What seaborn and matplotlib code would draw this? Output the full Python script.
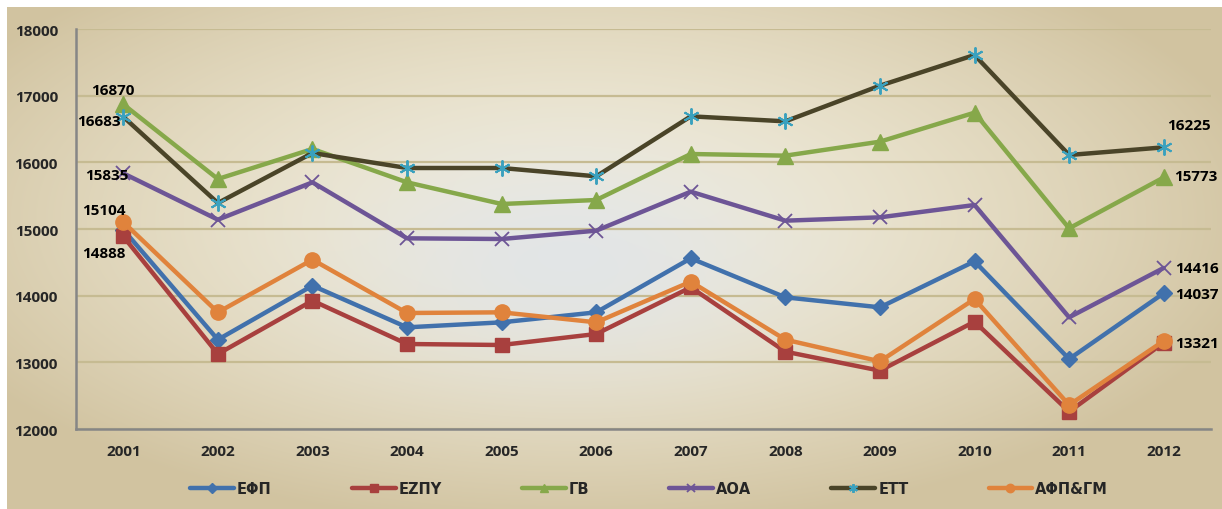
import numpy as np
import pandas as pd
import matplotlib
matplotlib.use("Agg")
import matplotlib.pyplot as plt
from matplotlib.colors import to_rgb
import seaborn as sns

# ── Data ──────────────────────────────────────
years = ["2001", "2002", "2003", "2004", "2005", "2006",
         "2007", "2008", "2009", "2010", "2011", "2012"]
efp = [14990, 13340, 14150, 13525, 13600, 13750, 14560, 13975, 13825, 14515, 13050, 14037]
ezpy = [14888, 13125, 13925, 13275, 13260, 13425, 14125, 13160, 12875, 13610, 12260, 13295]
gv = [16870, 15750, 16200, 15700, 15375, 15435, 16125, 16100, 16310, 16745, 15010, 15773]
aoa = [15835, 15140, 15700, 14860, 14850, 14975, 15560, 15125, 15175, 15360, 13675, 14416]
ett = [16683, 15390, 16140, 15915, 15915, 15790, 16690, 16615, 17150, 17610, 16110, 16225]
afp_gm = [15104, 13750, 14540, 13740, 13750, 13600, 14210, 13340, 13015, 13950, 12360, 13321]

names = ["ΕΦΠ", "ΕΖΠΥ", "ΓΒ", "ΑΟΑ", "ΕΤΤ", "ΑΦΠ&ΓΜ"]
values = [efp, ezpy, gv, aoa, ett, afp_gm]

# ── Style ──────────────────────────────────────
sns.set_style("white")
plt.rcParams["font.family"] = ["Open Sans", "DejaVu Sans"]

# name: (line colour, marker, marker face, marker edge, marker size, edge width)
STYLES = {
    "ΕΦΠ": ("#4171AC", "D", "#4171AC", "#4171AC", 8.5, 1.0),
    "ΕΖΠΥ": ("#A8403E", "s", "#A8403E", "#A8403E", 9.5, 1.0),
    "ΓΒ": ("#86A84A", "^", "#86A84A", "#86A84A", 11, 1.0),
    "ΑΟΑ": ("#6D5596", "x", "#6D5596", "#6D5596", 10, 1.3),
    "ΕΤΤ": ("#4A4428", (6, 2, 0), "#3AA1BE", "#3AA1BE", 11.5, 1.4),
    "ΑΦΠ&ΓΜ": ("#E0833C", "o", "#E0833C", "#E0833C", 11, 1.0),
}

W, H = 1222, 510
fig = plt.figure(figsize=(W / 100, H / 100), dpi=100, facecolor="white")

# background gradient panel
bg = fig.add_axes([7 / W, 0, 1 - 7 / W, 502 / H], zorder=-5)
gh, gw = 502, 1215
yy, xx = np.mgrid[0:gh, 0:gw]
u, v = xx / gw, yy / gh
d = np.sqrt(((u - 0.47) / 0.58) ** 2 + ((v - 0.42) / 0.62) ** 2)
t = np.clip(d, 0, 1) ** 1.6
centre = np.array(to_rgb("#F1ECDA"))
edge = np.array(to_rgb("#D1C3A0"))
img = centre + (edge - centre) * t[..., None]
blue = np.array(to_rgb("#DFE4EA"))
g = np.exp(-(((xx - 560) / 210) ** 2 + ((yy - 255) / 110) ** 2))
img = img + (blue - img) * (0.8 * g)[..., None]
bg.imshow(img, aspect="auto", extent=(0, 1, 0, 1), origin="upper")
bg.axis("off")

ax = fig.add_axes([76 / W, 1 - 430 / H, (1211 - 76) / W, 400 / H])
ax.set_facecolor("none")

idx = np.arange(len(years))
for name, vals in zip(names, values):
    col, mk, mfc, mec, ms, mew = STYLES[name]
    sns.lineplot(x=idx, y=vals, ax=ax, color=col, linewidth=3.2, marker=mk,
                 markersize=ms, markerfacecolor=mfc, markeredgecolor=mec,
                 markeredgewidth=mew, label=name, zorder=3)

ax.set_xlim(-0.5, len(years) - 0.5)
ax.set_ylim(12000, 18000)
ax.set_yticks(range(12000, 18001, 1000))
ax.set_xticks(idx)
ax.set_xticklabels(years)
ax.set_xticks(np.arange(-0.5, len(years)), minor=True)
ax.tick_params(axis="x", which="major", length=0, pad=11)
ax.tick_params(axis="x", which="minor", length=5, width=1.5, color="#868686", direction="out")
ax.tick_params(axis="y", length=5, width=1.5, color="#868686", direction="out", pad=8)
for lab in ax.get_xticklabels() + ax.get_yticklabels():
    lab.set_fontweight("bold")
    lab.set_fontsize(11)
ax.set_xlabel("")
ax.set_ylabel("")

ax.grid(axis="y", color="#C6BB92", linewidth=1.6, zorder=0)
ax.set_axisbelow(True)
for side in ["top", "right"]:
    ax.spines[side].set_visible(False)
for side in ["left", "bottom"]:
    ax.spines[side].set_color("#868686")
    ax.spines[side].set_linewidth(1.8)

# data labels on first and last year (pixel offsets, alignment)
first_labels = {
    "ΓΒ": (-10, 14, "center", "center"),
    "ΕΤΤ": (-3, -4, "right", "center"),
    "ΑΟΑ": (5, -2, "right", "center"),
    "ΑΦΠ&ΓΜ": (-19, 12, "center", "center"),
    "ΕΖΠΥ": (-19, -17, "center", "center"),
}
last_labels = {
    "ΕΤΤ": (25, 22, "center", "center"),
    "ΓΒ": (10, 1, "left", "center"),
    "ΑΟΑ": (11, 0, "left", "center"),
    "ΕΦΠ": (11, -1, "left", "center"),
    "ΑΦΠ&ΓΜ": (11, -2, "left", "center"),
}
for name, vals in zip(names, values):
    for pos, table in [(0, first_labels), (len(years) - 1, last_labels)]:
        if name in table:
            dx, dy, ha, va = table[name]
            ax.annotate(f"{vals[pos]}", xy=(pos, vals[pos]), xytext=(dx, dy),
                        textcoords="offset pixels", ha=ha, va=va,
                        fontsize=11, fontweight="bold", color="black",
                        annotation_clip=False, zorder=5)

leg = ax.legend(loc="center", bbox_to_anchor=(0.505, -0.148), ncol=6, frameon=False,
                handlelength=3.0, columnspacing=5.5, handletextpad=0.2,
                markerscale=0.55,
                prop={"family": ["Liberation Sans Narrow", "DejaVu Sans"],
                      "weight": "bold", "size": 10.5})

fig.savefig("out.png", dpi=100, facecolor="white")
